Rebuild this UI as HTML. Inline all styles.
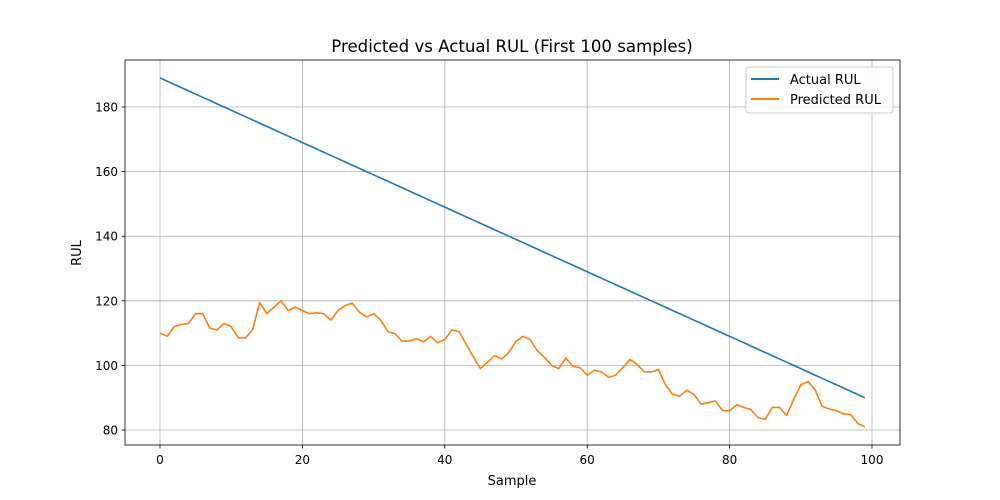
<!DOCTYPE html>
<html><head><meta charset="utf-8"><style>
body{margin:0;background:#fff;}
svg{display:block;font-family:"DejaVu Sans","Liberation Sans",sans-serif;}
</style></head><body>
<svg id="chart" width="1000" height="500" viewBox="0 0 1000 500">
<rect x="0" y="0" width="1000" height="500" fill="#fff"/>
<g id="grid"></g>
<g id="series"></g>
<rect x="125" y="60" width="775" height="385" fill="none" stroke="#000" stroke-width="0.8"/>
<g id="ticks"></g>
<text x="512" y="52" text-anchor="middle" font-size="16.6">Predicted vs Actual RUL (First 100 samples)</text>
<text x="512" y="485" text-anchor="middle" font-size="13">Sample</text>
<text transform="translate(81,253) rotate(-90)" text-anchor="middle" font-size="13">RUL</text>
<g>
<rect x="746" y="67" width="147" height="46" rx="3" fill="#fff" fill-opacity="0.8" stroke="#ccc"/>
<g><line x1="751" y1="79" x2="779" y2="79" stroke="#1f77b4" stroke-width="2"/><text x="790" y="84" font-size="13">Actual RUL</text></g>
<g><line x1="751" y1="99" x2="779" y2="99" stroke="#ff7f0e" stroke-width="2"/><text x="790" y="104" font-size="13">Predicted RUL</text></g>
</g>
</svg>
<script>
const xTicks=[0,20,40,60,80,100];
const yTicks=[80,100,120,140,160,180];
const actual=[189,188,187,186,185,184,183,182,181,180,179,178,177,176,175,174,173,172,171,170,169,168,167,166,165,164,163,162,161,160,159,158,157,156,155,154,153,152,151,150,149,148,147,146,145,144,143,142,141,140,139,138,137,136,135,134,133,132,131,130,129,128,127,126,125,124,123,122,121,120,119,118,117,116,115,114,113,112,111,110,109,108,107,106,105,104,103,102,101,100,99,98,97,96,95,94,93,92,91,90];
const predicted=[110,109,112,112.7,113,116,116,111.5,111,113,112,108.5,108.5,111,119.5,116,118,120,117,118,117,116,116.3,116,114,117,118.5,119.3,116.5,115,116,114,110.5,109.8,107.5,107.5,108.3,107.3,109,107,108,111,110.5,106.5,102.7,99,101,103,102,104,107.5,109,108,104.5,102.5,100,99,102.3,99.7,99.3,97,98.5,98,96.3,97,99.3,101.8,100.3,98,98,98.7,94,91,90.5,92.3,91,88,88.5,89,86,86,87.8,87,86.3,83.8,83.3,87,87,84.5,89.5,94,95,92.5,87.3,86.5,86,85,84.8,82,81];
const X=v=>160+(v)*7.12;
const Y=v=>430-(v-80)*3.23;
const NS="http://www.w3.org/2000/svg";
const grid=document.getElementById('grid'),ticks=document.getElementById('ticks'),series=document.getElementById('series');
function mk(t,a,p){const e=document.createElementNS(NS,t);for(const k in a)e.setAttribute(k,a[k]);p.appendChild(e);return e;}
xTicks.forEach(v=>{
const g=mk('line',{x1:X(v),x2:X(v),y1:60,y2:445,stroke:'#b0b0b0','stroke-width':0.8},grid);


mk('line',{x1:X(v),x2:X(v),y1:445,y2:448.5,stroke:'#000','stroke-width':0.8},ticks);
const t=mk('text',{x:X(v),y:464,'text-anchor':'middle','font-size':12},ticks);t.textContent=v;


});
yTicks.forEach(v=>{
const g=mk('line',{x1:125,x2:900,y1:Y(v),y2:Y(v),stroke:'#b0b0b0','stroke-width':0.8},grid);


mk('line',{x1:121.5,x2:125,y1:Y(v),y2:Y(v),stroke:'#000','stroke-width':0.8},ticks);
const t=mk('text',{x:118,y:Y(v)+4.5,'text-anchor':'end','font-size':12},ticks);t.textContent=v;


});
function line(arr,color,name){
const p=mk('polyline',{points:arr.map((v,i)=>X(i)+','+Y(v)).join(' '),fill:'none',stroke:color,'stroke-width':1.6,'stroke-linejoin':'round'},series);


}
line(actual,'#1f77b4','actual-rul-line');
line(predicted,'#ff7f0e','predicted-rul-line');
</script>
</body></html>
